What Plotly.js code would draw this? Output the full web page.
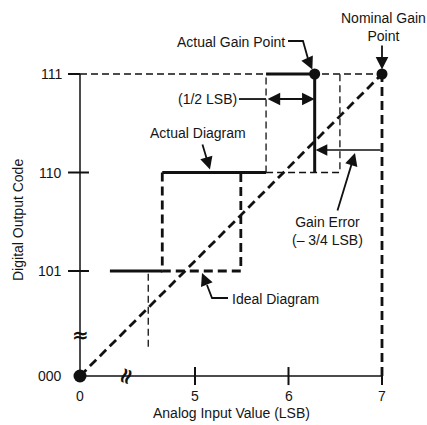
<!DOCTYPE html>
<html>
<head>
<meta charset="utf-8">
<script src="https://cdn.plot.ly/plotly-3.0.1.min.js"></script>
<style>html,body{margin:0;padding:0;background:#fff;}#chart{width:427px;height:425px;}</style>
</head>
<body>
<div id="chart"></div>
<script>
// ---- data (x in LSB, y in output code; 0 / 000 sit on a broken axis) ----
const X0 = 3.77;            // where "0" sits on the broken x axis
const Y0 = 3.934;           // where "000" sits on the broken y axis
const xTickVals = [X0, 5, 6, 7];
const xTickText = ['0', '5', '6', '7'];
const yTickVals = [Y0, 5, 6, 7];
const yTickText = ['000', '101', '110', '111'];

// nominal (ideal) straight transfer line
const nominalX = [X0, 7];
const nominalY = [Y0, 7];

// actual diagram, solid steps
const actualSolidX = [4.09, 4.65, null, 4.65, 5.76, null, 5.76, 6.28, 6.28];
const actualSolidY = [5, 5, null, 6, 6, null, 7, 7, 6];

// heavy dashed steps (actual transition 101->110, ideal 101 step)
const heavyDashX = [4.65, 4.65, 5.49, 5.49, null, 7, 7];
const heavyDashY = [6, 5, 5, 6, null, Y0, 7];

// light dashed guides
const lightDashX = [X0, 7, null, 4.5, 4.5, null, 5.76, 5.76, null, 5.76, 6.55, 6.55];
const lightDashY = [7, 7, null, 4.23, 5, null, 6, 7, null, 6, 6, 7];

// gain points
const gainPtX = [X0, 6.28, 7];
const gainPtY = [Y0, 7, 7];
const gainErrorLSB = -0.75;

// ---- drawing ----
const ink = '#111';
const axisX = [X0, 7, null, X0, X0];
const axisY = [Y0, Y0, null, Y0, 7];

// tick marks built from tick values
const tkX = [], tkY = [];
yTickVals.slice(1).forEach((v, i) => {
  const right = (i === 2) ? X0 : 3.866;
  tkX.push(3.642, right, null); tkY.push(v, v, null);
});
xTickVals.slice(1).forEach(v => {
  const top = (v === 7) ? Y0 : 4.025;
  tkX.push(v, v, null); tkY.push(3.842, top, null);
});

// leader polylines for callouts
const leaderX = [5.995, 6.155, 6.219, null, 5.353, 5.182, 5.128, null, 5.47, 5.76];
const leaderY = [7.335, 7.335, 7.12, null, 4.726, 4.726, 4.858, null, 6.746, 6.746];

const traces = [
  {x: axisX, y: axisY, mode: 'lines', line: {color: ink, width: 1.5}, hoverinfo: 'skip'},
  {x: tkX, y: tkY, mode: 'lines', line: {color: ink, width: 2}, hoverinfo: 'skip'},
  {x: lightDashX, y: lightDashY, mode: 'lines', line: {color: ink, width: 1.3, dash: '7px,4px'}, hoverinfo: 'skip'},
  {x: nominalX, y: nominalY, mode: 'lines', line: {color: ink, width: 2.8, dash: '9px,5px'}, hoverinfo: 'skip'},
  {x: heavyDashX, y: heavyDashY, mode: 'lines', line: {color: ink, width: 2.8, dash: '9px,5px'}, hoverinfo: 'skip'},
  {x: actualSolidX, y: actualSolidY, mode: 'lines', line: {color: ink, width: 3}, hoverinfo: 'skip'},
  {x: leaderX, y: leaderY, mode: 'lines', line: {color: ink, width: 1.8}, hoverinfo: 'skip'},
  {x: gainPtX, y: gainPtY, mode: 'markers', marker: {color: ink, size: [13, 11, 11], opacity: 1, line: {width: 0}}, cliponaxis: false, hoverinfo: 'skip'}
];

const fnt = {family: 'Liberation Sans, Arial, sans-serif', size: 14, color: '#151515'};
const ann = [];
// tick labels
xTickVals.forEach((v, i) => ann.push({x: v, y: 3.727, xref: 'x', yref: 'y', text: xTickText[i], showarrow: false, borderpad: 0, font: fnt}));
yTickVals.forEach((v, i) => ann.push({x: 3.588, y: v, xref: 'x', yref: 'y', text: yTickText[i], showarrow: false, xanchor: 'right', borderpad: 0, font: fnt}));
// axis titles
ann.push({x: 3.107, y: 5.518, xref: 'x', yref: 'y', text: 'Digital Output Code', textangle: -90, showarrow: false, borderpad: 0, font: fnt});
ann.push({x: 5.385, y: 3.56, xref: 'x', yref: 'y', text: 'Analog Input Value (LSB)', showarrow: false, borderpad: 0, font: fnt});
// axis break marks
ann.push({x: X0, y: 4.35, xref: 'x', yref: 'y', text: '<b>≈</b>', showarrow: false, borderpad: 0, font: {family: 'DejaVu Sans', size: 20, color: ink}});
ann.push({x: 4.251, y: Y0, xref: 'x', yref: 'y', text: '<b>≈</b>', textangle: -70, showarrow: false, borderpad: 0, font: {family: 'DejaVu Sans', size: 22, color: ink}});
// labels
ann.push({x: 5.984, y: 7.325, xref: 'x', yref: 'y', text: 'Actual Gain Point', xanchor: 'right', showarrow: false, font: fnt});
ann.push({x: 7.011, y: 7.477, xref: 'x', yref: 'y', text: 'Nominal Gain<br>Point', showarrow: false, font: fnt});
ann.push({x: 4.797, y: 6.746, xref: 'x', yref: 'y', text: '(1/2 LSB)', xanchor: 'left', showarrow: false, font: fnt});
ann.push({x: 4.497, y: 6.401, xref: 'x', yref: 'y', text: 'Actual Diagram', xanchor: 'left', showarrow: false, font: fnt});
ann.push({x: 6.412, y: 5.406, xref: 'x', yref: 'y', text: 'Gain Error<br>(– 3/4 LSB)', showarrow: false, font: fnt});
ann.push({x: 5.374, y: 4.716, xref: 'x', yref: 'y', text: 'Ideal Diagram', xanchor: 'left', showarrow: false, font: fnt});
// arrows
function arrow(hx, hy, tx, ty, opts) {
  return Object.assign({x: hx, y: hy, ax: tx, ay: ty, xref: 'x', yref: 'y', axref: 'x', ayref: 'y',
    text: '', showarrow: true, arrowhead: 2, arrowsize: 1.4, arrowwidth: 1.8, arrowcolor: ink, standoff: 0, startstandoff: 0}, opts || {});
}
ann.push(arrow(6.255, 7.045, 6.219, 7.12));
ann.push(arrow(7, 7.045, 7, 7.305));
ann.push(arrow(6.28, 6.746, 5.76, 6.746, {arrowside: 'end+start'}));
ann.push(arrow(5.16, 6.03, 5.075, 6.30));
ann.push(arrow(7 + gainErrorLSB + 0.04, 6.2285, 7, 6.2285, {arrowwidth: 1.3, arrowsize: 1.8}));
ann.push(arrow(6.711, 6.198, 6.519, 5.599));
ann.push(arrow(5.075, 4.98, 5.128, 4.858));

const layout = {
  width: 427, height: 425,
  margin: {l: 0, r: 0, t: 0, b: 0},
  paper_bgcolor: '#fff', plot_bgcolor: '#fff',
  showlegend: false,
  font: fnt,
  xaxis: {range: [2.9144, 7.4813], visible: false, fixedrange: true},
  yaxis: {range: [3.4366, 7.7513], visible: false, fixedrange: true},
  annotations: ann
};
Plotly.newPlot('chart', traces, layout, {displayModeBar: false, staticPlot: true});
</script>
</body>
</html>
